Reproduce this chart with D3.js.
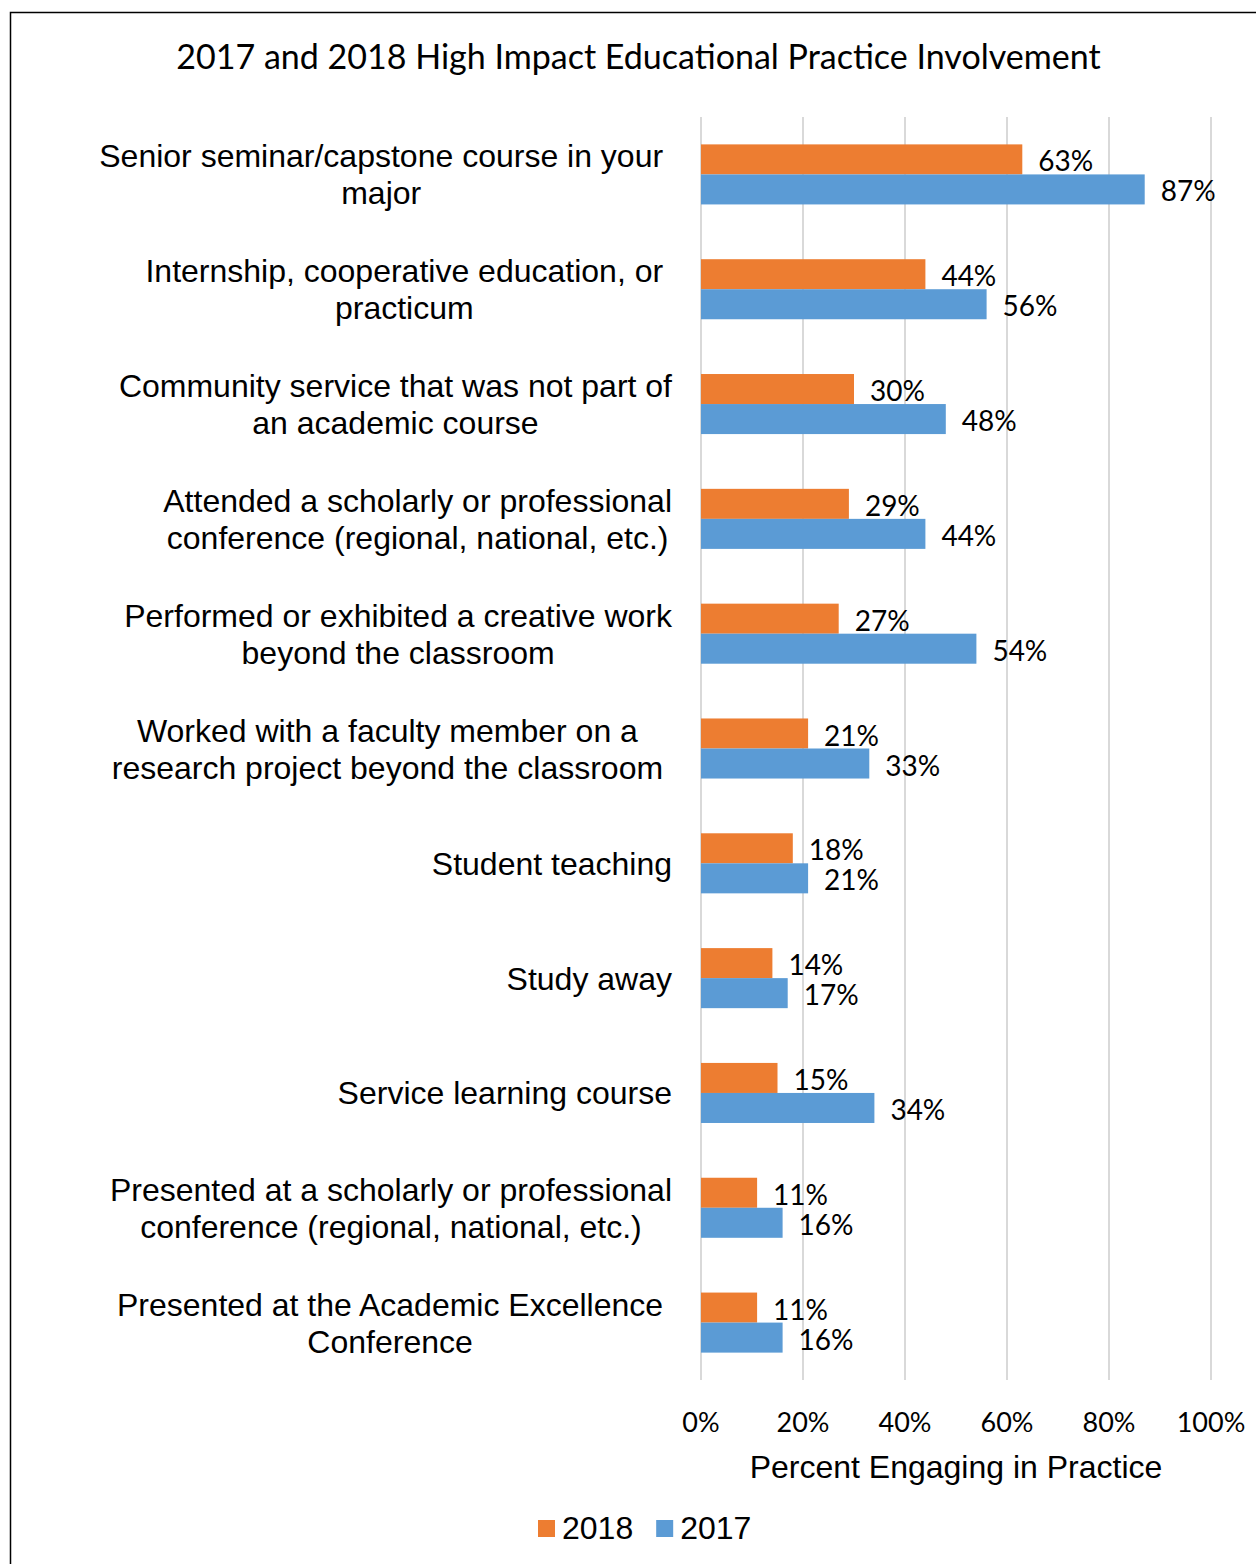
<!DOCTYPE html>
<html>
<head>
<meta charset="utf-8">
<script src="https://cdn.jsdelivr.net/npm/d3@7"></script>
<style>
  body { margin: 0; background: #fff; }
  text { white-space: pre; }
</style>
</head>
<body>
<div id="chart"></div>
<script>

// category labels, as Excel wrapped them (trailing spaces kept on purpose)
var categories = [
  ["Senior seminar/capstone course in your ", "major"],
  ["Internship, cooperative education, or ", "practicum"],
  ["Community service that was not part of", "an academic course"],
  ["Attended a scholarly or professional", "conference (regional, national, etc.)"],
  ["Performed or exhibited a creative work", "beyond the classroom"],
  ["Worked with a faculty member on a", "research project beyond the classroom "],
  ["Student teaching"],
  ["Study away"],
  ["Service learning course"],
  ["Presented at a scholarly or professional", "conference (regional, national, etc.)"],
  ["Presented at the Academic Excellence ", "Conference"]
];

var series = ["2018", "2017"];
var values2018 = [0.63, 0.44, 0.30, 0.29, 0.27, 0.21, 0.18, 0.14, 0.15, 0.11, 0.11];
var values2017 = [0.87, 0.56, 0.48, 0.44, 0.54, 0.33, 0.21, 0.17, 0.34, 0.16, 0.16];
var xTicks = [0, 0.2, 0.4, 0.6, 0.8, 1.0];

var colors = { "2018": "#ED7D31", "2017": "#5B9BD5" };

var width = 1256, height = 1564;
var arial = "'Liberation Sans', Arial, sans-serif";
var calib = "Lato, Carlito, Calibri, sans-serif";

var svg = d3.select("#chart")
  .append("svg")
  .attr("width", width)
  .attr("height", height);

// chart frame
svg.append("rect")
  .attr("x", 10.5).attr("y", 12.5)
  .attr("width", 1262).attr("height", 1570)
  .attr("fill", "none")
  .attr("stroke", "#000")
  .attr("stroke-width", 1.5);

var x = d3.scaleLinear().domain([0, 1]).range([701, 1211]);

var idx = d3.range(categories.length);
var y0 = d3.scaleBand()
  .domain(idx)
  .range([117, 1380])
  .paddingInner(0.477)
  .paddingOuter(0.2385);

var y1 = d3.scaleBand()
  .domain(series)
  .range([0, y0.bandwidth()]);

// gridlines
svg.append("g")
  .selectAll("line")
  .data(xTicks)
  .enter().append("line")
  .attr("x1", function(d) { return x(d); })
  .attr("x2", function(d) { return x(d); })
  .attr("y1", 117)
  .attr("y2", 1380)
  .attr("stroke", "#D9D9D9")
  .attr("stroke-width", 2);

// bars
var rows = idx.map(function(i) {
  return { i: i, vals: [
    { key: "2018", v: values2018[i] },
    { key: "2017", v: values2017[i] }
  ]};
});

var groups = svg.selectAll(".grp")
  .data(rows)
  .enter().append("g")
  .attr("class", "grp")
  .attr("transform", function(d) { return "translate(0," + y0(d.i) + ")"; });

groups.selectAll("rect")
  .data(function(d) { return d.vals; })
  .enter().append("rect")
  .attr("x", x(0))
  .attr("y", function(d) { return y1(d.key); })
  .attr("width", function(d) { return x(d.v) - x(0); })
  .attr("height", y1.bandwidth())
  .attr("fill", function(d) { return colors[d.key]; });

groups.selectAll("text")
  .data(function(d) { return d.vals; })
  .enter().append("text")
  .attr("x", function(d) { return x(d.v) + 16; })
  .attr("y", function(d) { return y1(d.key) + y1.bandwidth() / 2; })
  .attr("dy", "0.43em")
  .attr("font-family", calib)
  .attr("font-size", 28)
  .attr("fill", "#000")
  .text(function(d) { return Math.round(d.v * 100) + "%"; });

// category labels: visible lines centred on each other, block right-aligned
// (a trailing space still takes room at the right edge, like in Excel)
var labelRight = 672, lineH = 37;
var labels = svg.append("g")
  .attr("font-family", arial)
  .attr("font-size", 32)
  .attr("fill", "#000");

categories.forEach(function(lines, i) {
  var cy = y0(i) + y0.bandwidth() / 2;
  var t = labels.append("text").attr("text-anchor", "middle");
  var best = null;
  var spans = lines.map(function(l, k) {
    var s = t.append("tspan")
      .attr("y", cy + (k - (lines.length - 1) / 2) * lineH)
      .attr("dy", "0.36em")
      .text(l);
    var full = s.node().getComputedTextLength();
    s.text(l.replace(/\s+$/, ""));
    var trim = s.node().getComputedTextLength();
    if (!best || full > best.full) best = { full: full, trim: trim };
    return s;
  });
  var c = labelRight - (best.full - best.trim) - best.trim / 2;
  spans.forEach(function(s) { s.attr("x", c); });
});

// x tick labels
svg.append("g")
  .selectAll("text")
  .data(xTicks)
  .enter().append("text")
  .attr("x", function(d) { return x(d); })
  .attr("y", 1432)
  .attr("text-anchor", "middle")
  .attr("font-family", calib)
  .attr("font-size", 27)
  .text(function(d) { return Math.round(d * 100) + "%"; });

// axis title
svg.append("text")
  .attr("x", (x(0) + x(1)) / 2)
  .attr("y", 1478)
  .attr("text-anchor", "middle")
  .attr("font-family", arial)
  .attr("font-size", 32)
  .text("Percent Engaging in Practice");

// chart title, sized to the original width
var title = svg.append("text")
  .attr("x", 638.5)
  .attr("y", 69)
  .attr("text-anchor", "middle")
  .attr("font-family", calib)
  .attr("font-size", 30)
  .text("2017 and 2018 High Impact Educational Practice Involvement");
var tw = title.node().getComputedTextLength();
title.attr("font-size", 30 * 925 / tw);

// legend
var legend = svg.append("g")
  .attr("font-family", arial)
  .attr("font-size", 32);
var lx = 538;
series.forEach(function(s) {
  legend.append("rect")
    .attr("x", lx).attr("y", 1520)
    .attr("width", 17).attr("height", 17)
    .attr("fill", colors[s]);
  var lt = legend.append("text")
    .attr("x", lx + 24)
    .attr("y", 1539)
    .text(s);
  lx += 24 + lt.node().getComputedTextLength() + 23;
});

</script>
</body>
</html>
